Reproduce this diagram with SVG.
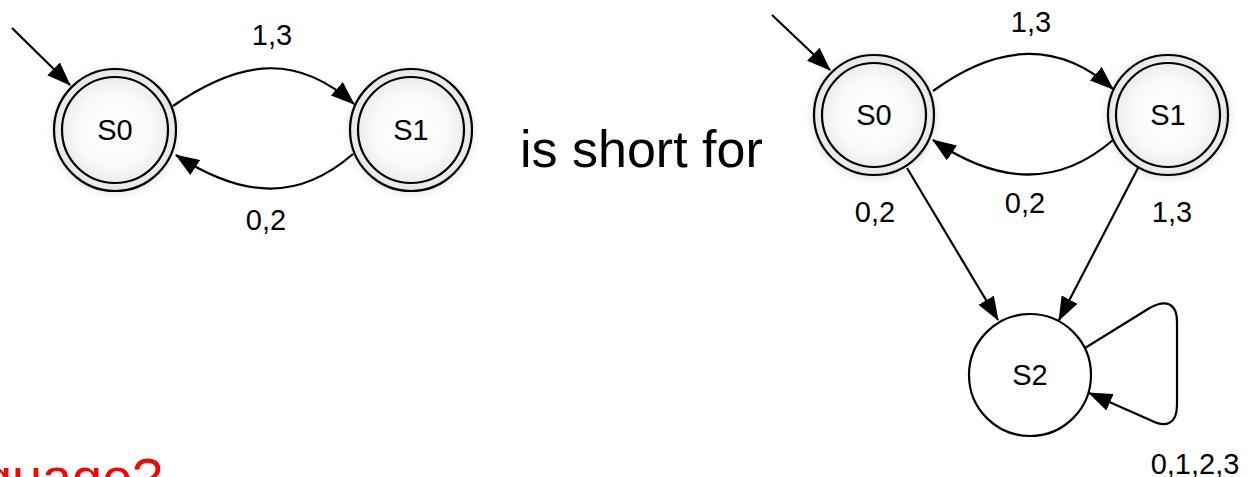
<svg xmlns="http://www.w3.org/2000/svg" width="1248" height="477" viewBox="0 0 1248 477">
<defs>
<radialGradient id="g" cx="0.5" cy="0.5" r="0.5">
<stop offset="0" stop-color="#ffffff"/>
<stop offset="0.6" stop-color="#fafafa"/>
<stop offset="1" stop-color="#e6e6e6"/>
</radialGradient>
<filter id="sh" x="-30%" y="-30%" width="160%" height="160%">
<feGaussianBlur stdDeviation="4"/>
</filter>
<marker id="ah" markerUnits="userSpaceOnUse" markerWidth="24" markerHeight="18" refX="23" refY="9" orient="auto">
<path d="M0,0 L24,9 L0,18 z" fill="#000"/>
</marker>
</defs>
<style>
.o{fill:url(#g);stroke:#000;stroke-width:2.2}
.i{fill:none;stroke:#000;stroke-width:2.2}
.s{fill:#000;opacity:0.13;filter:url(#sh)}
.p{fill:#fff;stroke:#000;stroke-width:2.2}
.e{fill:none;stroke:#000;stroke-width:2.2;marker-end:url(#ah)}
.t{font-family:"Liberation Sans",Arial,sans-serif;font-size:29px;fill:#000;text-anchor:middle}
.big{font-family:"Liberation Sans",Arial,sans-serif;font-size:52px;fill:#000}
.red{font-family:"Liberation Sans",Arial,sans-serif;font-size:54px;fill:#ff0000}
</style>
<rect width="1248" height="477" fill="#fff"/>

<g id="connectors">
<path class="e" d="M12,28 L70,85"/>
<path class="e" d="M173,106 C245,56 300,56 354,104"/>
<path class="e" d="M353,154 C300,200 245,200 176,155"/>
<path class="e" d="M772,15 L830,70"/>
<path class="e" d="M933,91 C1000,42 1060,42 1113,89"/>
<path class="e" d="M1113,140 C1060,186 1000,186 933,140"/>
<path class="e" d="M907,168 L998,320"/>
<path class="e" d="M1138,168 L1059,320"/>
<path class="e" d="M1085,348 L1148,309 C1165,299 1177,302 1177,322 L1177,405 C1177,425 1165,428 1150,420 L1089,393"/>
</g>

<g id="labels">
<text class="t" x="272" y="45">1,3</text>
<text class="t" x="266" y="230">0,2</text>
<text class="t" x="1031" y="32">1,3</text>
<text class="t" x="1025" y="213">0,2</text>
<text class="t" x="875" y="222">0,2</text>
<text class="t" x="1172" y="222">1,3</text>
<text class="t" x="1195" y="474">0,1,2,3</text>
</g>

<g id="L_S0">
<circle class="s" cx="115" cy="131" r="62"/>
<circle class="o" cx="115" cy="130" r="61"/>
<circle class="i" cx="115" cy="130" r="53"/>
<text class="t" x="115" y="140">S0</text>
</g>
<g id="L_S1">
<circle class="s" cx="411" cy="131" r="62"/>
<circle class="o" cx="411" cy="130" r="61"/>
<circle class="i" cx="411" cy="130" r="53"/>
<text class="t" x="411" y="140">S1</text>
</g>
<g id="R_S0">
<circle class="s" cx="874" cy="116" r="62"/>
<circle class="o" cx="874" cy="115" r="60"/>
<circle class="i" cx="874" cy="115" r="52"/>
<text class="t" x="874" y="125">S0</text>
</g>
<g id="R_S1">
<circle class="s" cx="1168" cy="116" r="62"/>
<circle class="o" cx="1168" cy="115" r="60"/>
<circle class="i" cx="1168" cy="115" r="52"/>
<text class="t" x="1168" y="125">S1</text>
</g>
<g id="R_S2">
<circle class="p" cx="1030" cy="375" r="61"/>
<text class="t" x="1030" y="385">S2</text>
</g>

<text class="big" x="520" y="167">is short for</text>
<text class="red" x="-18" y="496">guage?</text>
</svg>
